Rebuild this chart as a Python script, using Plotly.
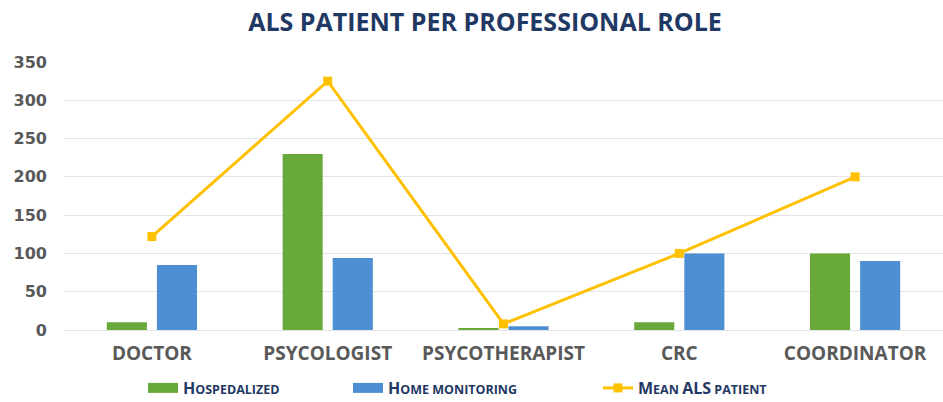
import plotly.graph_objects as go

categories = ["DOCTOR", "PSYCOLOGIST", "PSYCOTHERAPIST", "CRC", "COORDINATOR"]
hospedalized = [10, 230, 2, 10, 100]
home_monitoring = [85, 94, 5, 100, 90]
mean_als = [122, 325, 8, 100, 200]

BIG, SMALL = 16, 12.5

def sc(big_part, small_part):
    return (f"<span style='font-size:{BIG}px'>{big_part}</span>"
            f"<span style='font-size:{SMALL}px'>{small_part}</span>")

name_hosp = "<b>" + sc("H", "OSPEDALIZED") + "</b>"
name_home = "<b>" + sc("H", "OME MONITORING") + "</b>"
name_mean = "<b>" + sc("M", "EAN ") + sc("ALS", " PATIENT") + "</b>"

GREEN = "#69A93C"
BLUE = "#4D8FD2"
GOLD = "#FFC000"

fig = go.Figure()
fig.add_trace(go.Bar(x=categories, y=hospedalized, name="Hospedalized", legendgroup="h",
                     showlegend=False, marker=dict(color=GREEN, line=dict(width=0))))
fig.add_trace(go.Bar(x=categories, y=home_monitoring, name="Home monitoring", legendgroup="m",
                     showlegend=False, marker=dict(color=BLUE, line=dict(width=0))))
fig.add_trace(go.Scatter(x=categories, y=mean_als, name=name_mean, legend="legend3",
                         mode="lines+markers",
                         line=dict(color=GOLD, width=3),
                         marker=dict(symbol="square", size=9, color=GOLD)))
# legend entries for bars (wide rectangular swatches)
fig.add_trace(go.Scatter(x=[None], y=[None], name=name_hosp, legendgroup="h", legend="legend",
                         mode="lines", line=dict(color=GREEN, width=10)))
fig.add_trace(go.Scatter(x=[None], y=[None], name=name_home, legendgroup="m", legend="legend2",
                         mode="lines", line=dict(color=BLUE, width=10)))

PL, PR, PT, PB = 64, 943, 62, 330
def px_x(p):
    return (p - PL) / (PR - PL)
def px_y(p):
    return (PB - p) / (PB - PT)

leg_common = dict(orientation="h", yanchor="middle", y=px_y(388), xanchor="left",
                  font=dict(family="Open Sans", size=BIG, color="#1F3864"),
                  bgcolor="rgba(0,0,0,0)", itemwidth=30)

fig.update_layout(
    width=943, height=402,
    paper_bgcolor="white", plot_bgcolor="white",
    margin=dict(l=PL, r=943 - PR, t=PT, b=402 - PB, autoexpand=False),
    title=dict(text="<b>ALS PATIENT PER PROFESSIONAL ROLE</b>", x=485 / 943, xanchor="center",
               xref="container", yref="container", y=1 - 22 / 402, yanchor="middle",
               font=dict(family="Open Sans", size=25, color="#1F3864")),
    barmode="group", bargap=0.43, bargroupgap=0.2,
    showlegend=True,
    legend=dict(x=px_x(143), **leg_common),
    legend2=dict(x=px_x(348), **leg_common),
    legend3=dict(x=px_x(598), **leg_common),
)
fig.update_yaxes(range=[0, 350], dtick=50, showgrid=True, gridcolor="#E3E3E3", gridwidth=1,
                 zeroline=False, showline=False, ticks="", automargin=False,
                 tickfont=dict(family="DejaVu Sans", size=16, color="#595959", weight="bold"),
                 ticklabelstandoff=16)
fig.update_xaxes(showgrid=False, showline=True, linecolor="#E3E3E3", ticks="", automargin=False,
                 tickfont=dict(family="Open Sans", size=19, color="#595959", weight="bold"),
                 ticklabelstandoff=6)

fig.write_html("out.html", config={"displayModeBar": False},
               post_script="document.body.style.margin='0';document.body.style.padding='0';")
